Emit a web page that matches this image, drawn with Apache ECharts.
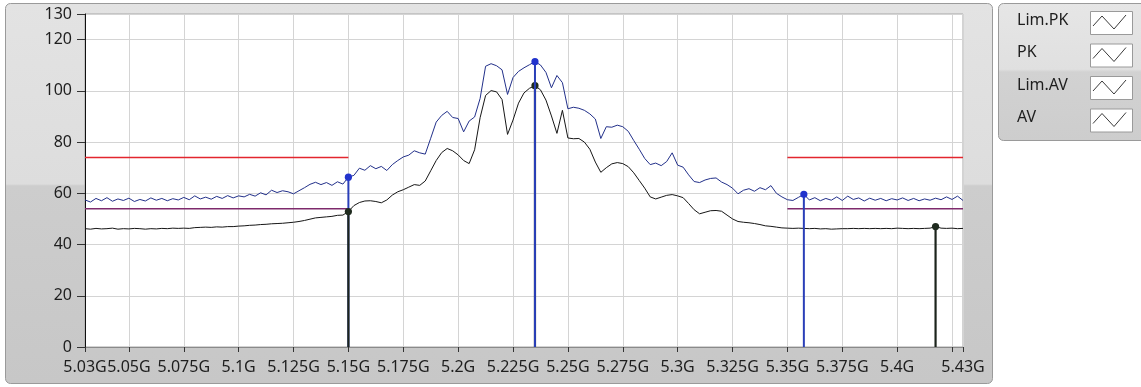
<!DOCTYPE html>
<html>
<head>
<meta charset="utf-8">
<title>Spectrum 5.03G - 5.43G</title>
<script src="https://cdn.jsdelivr.net/npm/echarts/dist/echarts.min.js"></script>
<style>
  html, body { margin: 0; padding: 0; background: #ffffff; }
  #chart { width: 1141px; height: 387px; }
</style>
</head>
<body>
<div id="chart"></div>
<script>
// Sweep settings (GHz)
const FREQ_START = 5.03;
const FREQ_STEP = 0.0025;

// Peak detector trace (dBµV), one value per sweep point
const PK = [
  57.4, 56.6, 58.0, 57.1, 58.3, 56.9, 57.8, 57.2, 58.1, 56.8,
  57.6, 57.0, 58.2, 57.3, 58.0, 57.1, 57.9, 57.4, 58.4, 57.5,
  59.0, 57.8, 58.5, 57.7, 58.8, 58.0, 59.1, 58.2, 59.0, 58.6,
  59.6, 58.9, 60.2, 59.4, 61.2, 60.3, 61.0, 60.6, 59.8, 61.0,
  62.2, 63.5, 64.3, 63.4, 64.2, 63.1, 64.5, 63.6, 66.3, 67.0,
  69.8, 69.0, 70.8, 69.6, 70.5, 68.9, 71.2, 72.8, 74.2, 74.9,
  76.6, 75.8, 75.3, 81.5, 87.8, 90.4, 92.0, 89.6, 89.2, 84.0,
  88.2, 89.8, 97.0, 109.6, 110.6, 109.8, 108.2, 98.6, 105.2, 107.6,
  109.0, 110.2, 111.4, 110.1, 107.2, 101.2, 106.0, 103.2, 93.0, 93.6,
  93.2, 92.4, 91.0, 89.0, 81.4, 86.0, 85.8, 86.6, 86.0, 84.2,
  80.6, 77.2, 73.6, 71.2, 71.8, 70.8, 72.4, 75.8, 71.0, 70.2,
  67.2, 64.6, 64.2, 65.2, 65.8, 66.0, 64.4, 63.4, 62.0, 59.8,
  61.2, 61.8, 60.8, 62.2, 61.4, 63.0, 60.0, 58.6, 57.5, 57.2,
  58.4, 59.6, 57.4, 58.3, 57.1, 58.0, 57.3, 58.6, 57.2, 58.9,
  57.6, 58.2, 57.0, 58.1, 57.3, 58.0, 57.1, 57.9, 57.4, 58.2,
  57.2, 58.0, 57.1, 57.8, 57.3, 58.1, 57.5, 58.6, 57.6, 58.9,
  57.2
];

// Average detector trace (dBµV)
const AV = [
  46.2, 46.0, 46.3, 46.1, 46.2, 46.4, 46.0, 46.2, 46.1, 46.3,
  46.2, 46.0, 46.2, 46.1, 46.3, 46.2, 46.4, 46.3, 46.4, 46.3,
  46.6, 46.7, 46.8, 46.7, 46.9, 46.8, 47.0, 47.0, 47.2, 47.3,
  47.5, 47.6, 47.8, 47.9, 48.1, 48.2, 48.3, 48.5, 48.7, 49.0,
  49.4, 49.9, 50.4, 50.6, 50.8, 51.0, 51.4, 51.5, 52.9, 55.2,
  56.4, 57.0, 57.1, 56.8, 56.3, 57.4, 59.3, 60.6, 61.4, 62.4,
  63.4, 63.1, 64.8, 68.8, 72.8, 75.9, 77.5, 76.6, 75.0, 72.8,
  71.6, 77.0, 89.5, 98.2, 100.1, 99.6, 96.6, 83.0, 88.6, 95.2,
  99.2, 101.0, 102.0, 100.4, 96.4, 90.2, 83.4, 92.4, 81.6, 81.3,
  81.4, 80.0, 77.2, 72.2, 68.2, 70.0, 71.5, 72.0, 71.6, 70.4,
  68.0, 65.0, 62.0, 58.6, 57.8, 58.5, 59.2, 59.5, 59.0, 58.3,
  56.0, 53.6, 52.0, 52.6, 53.2, 53.3, 53.0, 51.5, 50.0, 49.0,
  48.7, 48.5, 48.2, 47.8, 47.3, 47.1, 46.8, 46.5, 46.4, 46.3,
  46.4, 46.3, 46.2, 46.3, 46.1, 46.2, 46.0, 46.1, 46.2, 46.2,
  46.3, 46.2, 46.3, 46.2, 46.3, 46.2, 46.3, 46.2, 46.4, 46.3,
  46.2, 46.3, 46.2, 46.3, 46.4, 47.0, 46.4, 46.3, 46.4, 46.2,
  46.3
];

// Limit lines: level (dBµV) and the frequency bands (GHz) where they apply
const LIM_PK = 74;
const LIM_AV = 54;
const LIMIT_BANDS = [[5.03, 5.15], [5.35, 5.43]];

// Marker sweep indices, listed in drawing order
const MARKERS = [
  { trace: 'PK', index: 48 },
  { trace: 'AV', index: 48 },
  { trace: 'AV', index: 82 },
  { trace: 'PK', index: 82 },
  { trace: 'PK', index: 131 },
  { trace: 'AV', index: 155 }
];

// Axis ticks
const X_TICKS = [5.03, 5.05, 5.075, 5.1, 5.125, 5.15, 5.175, 5.2, 5.225, 5.25,
                 5.275, 5.3, 5.325, 5.35, 5.375, 5.4, 5.425, 5.43];
const X_LABELS = [5.03, 5.05, 5.075, 5.1, 5.125, 5.15, 5.175, 5.2, 5.225, 5.25,
                  5.275, 5.3, 5.325, 5.35, 5.375, 5.4, 5.43];
const Y_MIN = 0, Y_MAX = 130, Y_STEP = 20;

const LEGEND_NAMES = ['Lim.PK', 'PK', 'Lim.AV', 'AV'];

const freqAt = i => +(FREQ_START + i * FREQ_STEP).toFixed(4);
const pkData = PK.map((v, i) => [freqAt(i), v]);
const avData = AV.map((v, i) => [freqAt(i), v]);

function limitData(level) {
  const out = [];
  LIMIT_BANDS.forEach((b, k) => {
    if (k > 0) out.push('-');
    out.push([b[0], level], [b[1], level]);
  });
  return out;
}

const traces = { PK, AV };
const markerData = MARKERS.map(m => [freqAt(m.index), traces[m.trace][m.index], m.trace === 'PK' ? 0 : 1]);

const STEM_STYLE = [
  { stroke: '#2a3fb8', fill: '#2233cc', width: 2 },
  { stroke: '#1c241c', fill: '#1f2b1f', width: 2.2 }
];

const FONT = '"Noto Sans", "Open Sans", sans-serif';
const TEXT = '#1e1e1e';

const chart = echarts.init(document.getElementById('chart'), null, { renderer: 'canvas' });

// Legend row: name plus a small white box holding the plot glyph
function legendRow(name, cy) {
  return [
    { type: 'text', left: 1017, top: cy - 11,
      style: { text: name, fill: TEXT, font: '16px ' + FONT } },
    { type: 'rect', shape: { x: 1090.5, y: cy - 11.5, width: 42, height: 23 },
      style: { fill: '#ffffff', stroke: '#9a9a9a', lineWidth: 1 } },
    { type: 'polyline',
      shape: { points: [[1093, cy + 3], [1102, cy - 7], [1114, cy + 6], [1126, cy - 8]] },
      style: { stroke: '#3a3a3a', lineWidth: 1, fill: null } }
  ];
}

const legendGraphics = [];
LEGEND_NAMES.forEach((n, k) => legendGraphics.push(...legendRow(n, 23 + k * 32.5)));

chart.setOption({
  animation: false,
  backgroundColor: '#ffffff',
  graphic: [
    { type: 'rect', z: -10, shape: { x: 5.5, y: 3.5, width: 987, height: 380, r: 5 },
      style: {
        stroke: '#9a9a9a', lineWidth: 1,
        fill: { type: 'linear', x: 0, y: 0, x2: 0, y2: 1, colorStops: [
          { offset: 0, color: '#e3e3e3' }, { offset: 0.475, color: '#dddddd' },
          { offset: 0.48, color: '#cdcdcd' }, { offset: 1, color: '#c7c7c7' }] }
      } },
    { type: 'rect', z: -10, shape: { x: 998.5, y: 3.5, width: 150, height: 137, r: 5 },
      style: {
        stroke: '#9a9a9a', lineWidth: 1,
        fill: { type: 'linear', x: 0, y: 0, x2: 0, y2: 1, colorStops: [
          { offset: 0, color: '#e6e6e6' }, { offset: 0.48, color: '#e0e0e0' },
          { offset: 0.5, color: '#d2d2d2' }, { offset: 1, color: '#cdcdcd' }] }
      } },
    ...legendGraphics
  ],
  grid: {
    left: 85, top: 14, width: 878, height: 333,
    show: true, backgroundColor: '#ffffff', borderColor: '#a6a6a6', borderWidth: 1
  },
  xAxis: {
    type: 'value', min: 5.03, max: 5.43,
    axisLine: { show: true, lineStyle: { color: '#8a8a8a', width: 1 } },
    axisTick: { show: true, length: 5, customValues: X_TICKS, lineStyle: { color: '#333' } },
    axisLabel: {
      customValues: X_LABELS, margin: 12, color: TEXT, fontSize: 16, fontFamily: FONT,
      formatter: v => (+v.toFixed(3)) + 'G', hideOverlap: false,
      showMinLabel: true, showMaxLabel: true
    },
    splitLine: { show: true, lineStyle: { color: '#d4d4d4', width: 1 } }
  },
  yAxis: {
    type: 'value', min: Y_MIN, max: Y_MAX, interval: Y_STEP,
    axisLine: { show: true, lineStyle: { color: '#111', width: 1 } },
    axisTick: { show: true, length: 8, lineStyle: { color: '#333' } },
    axisLabel: { margin: 13, color: TEXT, fontSize: 16, fontFamily: FONT,
      showMinLabel: true, showMaxLabel: true },
    splitLine: { show: true, lineStyle: { color: '#d4d4d4', width: 1 } }
  },
  series: [
    { name: 'Lim.PK', type: 'line', data: limitData(LIM_PK), showSymbol: false, z: 3,
      lineStyle: { color: '#e3262e', width: 1.5 } },
    { name: 'Lim.AV', type: 'line', data: limitData(LIM_AV), showSymbol: false, z: 3,
      lineStyle: { color: '#7e2a6c', width: 1.5 } },
    { name: 'AV', type: 'line', data: avData, showSymbol: false, z: 4,
      lineStyle: { color: '#161616', width: 1 } },
    { name: 'PK', type: 'line', data: pkData, showSymbol: false, z: 5,
      lineStyle: { color: '#22308a', width: 1 } },
    { name: 'Markers', type: 'custom', z: 6, data: markerData,
      renderItem(params, api) {
        const f = api.value(0), v = api.value(1), s = STEM_STYLE[api.value(2)];
        const top = api.coord([f, v]);
        const base = api.coord([f, 0]);
        return { type: 'group', children: [
          { type: 'line', shape: { x1: top[0], y1: top[1], x2: base[0], y2: base[1] },
            style: { stroke: s.stroke, lineWidth: s.width } },
          { type: 'circle', shape: { cx: top[0], cy: top[1], r: 3.6 },
            style: { fill: s.fill } }
        ] };
      } }
  ]
});
</script>
</body>
</html>
